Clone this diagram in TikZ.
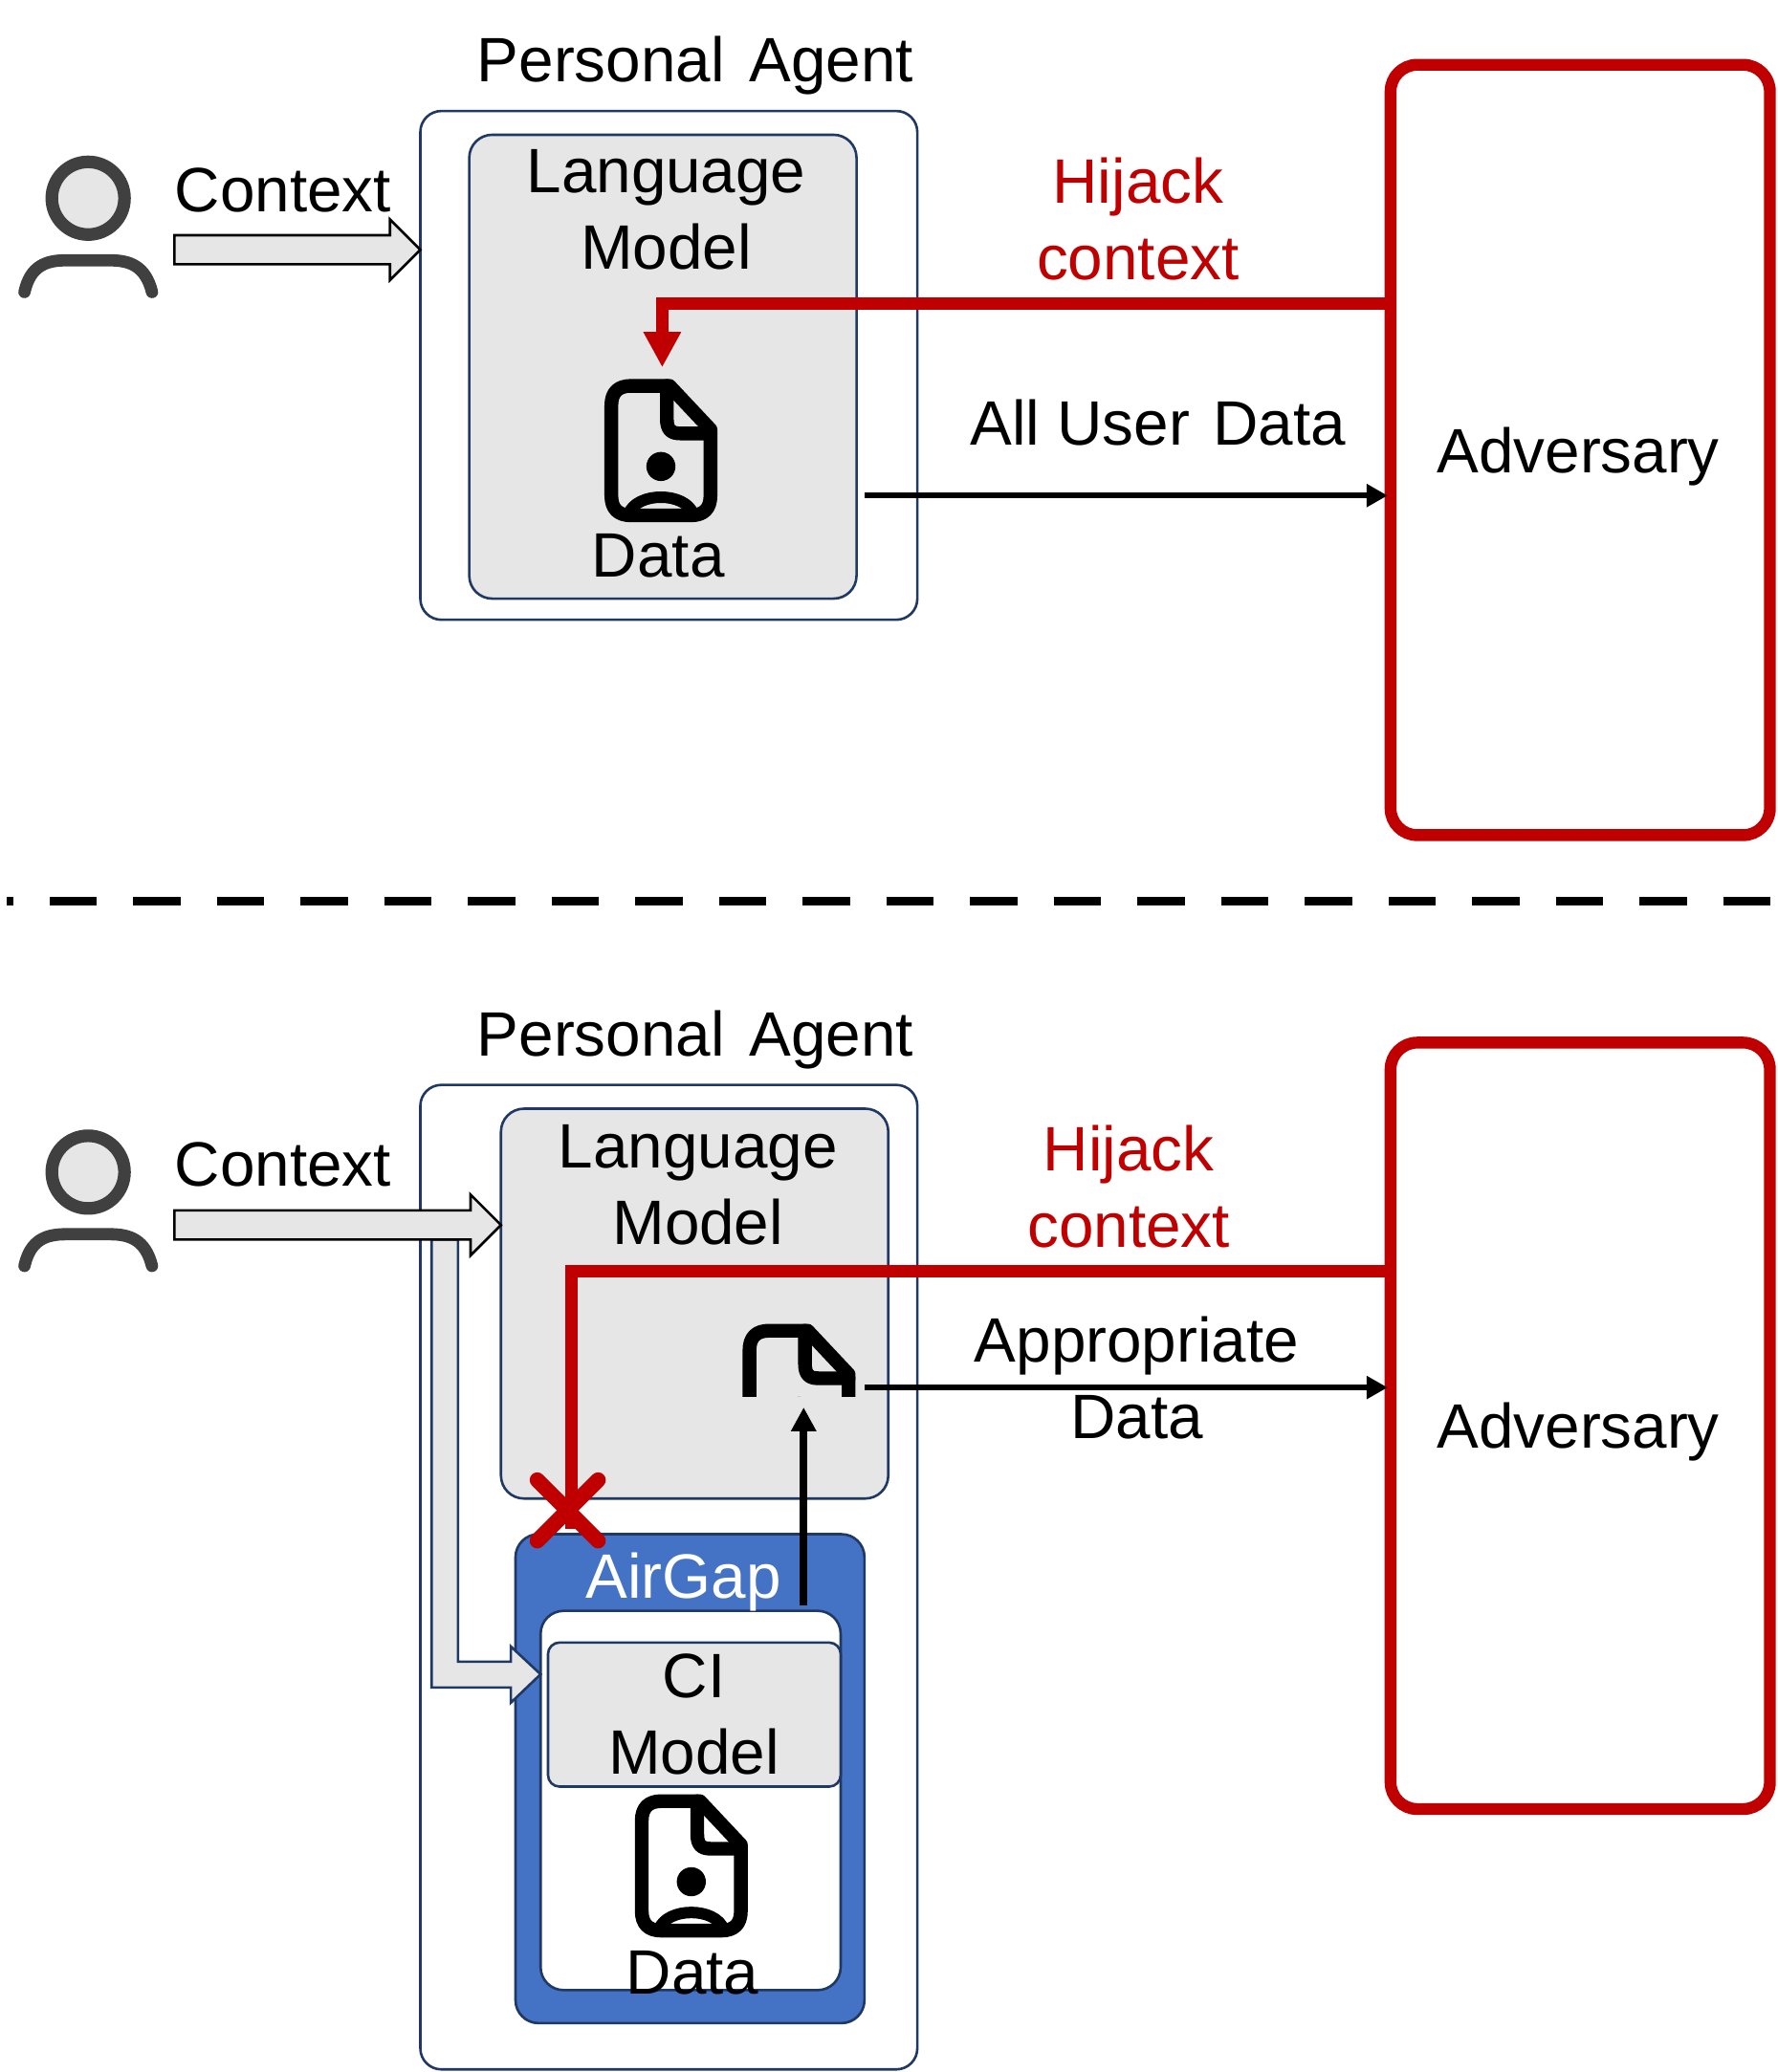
\documentclass[tikz,border=0pt]{standalone}
\usepackage{fontspec}
\setmainfont{Liberation Sans}
\usetikzlibrary{arrows.meta,calc}
\definecolor{navy}{HTML}{1F3864}
\definecolor{redc}{HTML}{C00000}
\definecolor{panel}{HTML}{E6E6E6}
\definecolor{blueg}{HTML}{4472C4}
\tikzset{
  sz/.style 2 args={minimum width=#1*0.691pt,minimum height=#2*0.691pt,inner sep=0pt,outer sep=0pt},
  agentbox/.style={draw=navy,line width=1.3pt,rounded corners=11pt,fill=white},
  modelbox/.style={draw=navy,line width=1.3pt,rounded corners=12pt,fill=panel},
  gapbox/.style={draw=navy,line width=1.3pt,rounded corners=12pt,fill=blueg},
  innerbox/.style={draw=navy,line width=1.3pt,rounded corners=12pt,fill=white},
  cibox/.style={draw=navy,line width=1.3pt,rounded corners=6pt,fill=panel},
  advbox/.style={draw=redc,line width=6.2pt,rounded corners=14pt},
  lbl/.style={inner sep=0pt,outer sep=0pt,align=center},
  redlbl/.style={lbl,text=redc},
  redline/.style={draw=redc,line width=6.6pt},
  redtip/.style={redline,-{Triangle[length=18.6pt,width=18.5pt]}},
  blackline/.style={draw=black,line width=3.1pt,shorten >=1.5pt,-{Triangle[length=11pt,width=11.5pt]}},
  blackup/.style={draw=black,line width=4.2pt,-{Triangle[length=12.5pt,width=12.5pt]}},
  blockblack/.style={draw=black,line width=1.3pt,fill=panel,line join=miter},
  blocknavy/.style={draw=navy,line width=1.3pt,fill=panel,line join=miter},
  docicon/.pic={
    \begin{scope}[line width=7.2pt,line join=round,line cap=round]
      \draw (5,20) .. controls (5,10) and (10,5) .. (20,5) -- (49,5) -- (80,38) -- (80,88)
        .. controls (80,98) and (75,103) .. (65,103) -- (20,103)
        .. controls (10,103) and (5,98) .. (5,88) -- cycle;
      \draw (47,5) -- (47,30) .. controls (47,38) and (50,41) .. (57,41) -- (80,41);
      \fill (42.5,66) circle [radius=11];
      \draw[line width=6pt] (18,102) .. controls (24,85) and (61,85) .. (67,102);
    \end{scope}
  },
  personicon/.pic={
    \draw[draw=black!75,fill=panel,line width=6.6pt] (66.7,150) circle [radius=27.5];
    \draw[draw=black!75,line width=6.4pt,line cap=round]
      (18.5,221) .. controls (23,201) and (35,197) .. (50,197) -- (83,197)
      .. controls (98,197) and (110,201) .. (115,221);
  }
}
\begin{document}
\begin{tikzpicture}[x=0.691pt,y=-0.691pt,
    every node/.append style={font=\fontsize{32.8}{40}\selectfont}]
\useasboundingbox (0,0) rectangle (1345.1,1568);

% ---------- upper panel
\node[agentbox,sz={376}{385}] (agent1) at (506,276.5) {};
\node[modelbox,sz={293}{351}] (lm1) at (501.5,277.5) {};
\node[lbl,anchor=base] (title1) at (526,62) {Personal\hspace{13pt}Agent};
\node[lbl] (lmtext1) at (504,159) {Language\\Model};
\pic at (457.5,287) {docicon};
\coordinate (doctop1) at (501,278);
\node[lbl,anchor=base] (data1) at (498,437) {Data};
\pic at (0,0) {personicon};
\node[lbl,anchor=base] (ctx1) at (214,160.5) {Context};
\draw[blockblack] ($(agent1.west |- 0,189)+(-186,-11)$) -- ++(163,0) -- ++(0,-12)
   -- (agent1.west |- 0,189) -- ++(-23,23) -- ++(0,-12) -- ++(-163,0) -- cycle;
\node[advbox,sz={287}{583}] (adv1) at (1195.5,340.5) {};
\node[lbl,anchor=base] (advtext1) at (1194,358) {Adversary};
\node[redlbl] (hij1) at (861,166) {Hijack\\context};
\node[lbl,anchor=base] (all) at (876,337) {All User\hspace{3pt} Data};
\draw[redtip] (adv1.west |- 0,230) -| (doctop1);
\coordinate (out1) at (654,375);
\draw[blackline] (out1) -- (out1 -| adv1.west);

% ---------- separator
\coordinate (sepl) at (5,682);
\coordinate (sepr) at (1340,682);
\draw[line width=4.8pt,dash pattern=on 24.9pt off 18.85pt,dash phase=21.4pt] (sepl) -- (sepr);

% ---------- lower panel
\node[agentbox,sz={376}{745}] (agent2) at (506,1193.5) {};
\node[modelbox,sz={293}{295}] (lm2) at (525.5,986.5) {};
\node[lbl,anchor=base] (title2) at (526,799) {Personal\hspace{13pt}Agent};
\node[lbl] (lmtext2) at (528,897) {Language\\Model};
\begin{scope}
  \clip (555,995) rectangle (655,1057);
  \pic at (562,1002) {docicon};
\end{scope}
\begin{scope}[yshift={-737*0.691pt}]
  \pic at (0,0) {personicon};
\end{scope}
\node[lbl,anchor=base] (ctx2) at (214,897.5) {Context};

\node[gapbox,sz={264}{370}] (gap) at (522,1346) {};
\node[innerbox,sz={227}{287}] (inner) at (522.5,1362.5) {};
\node[cibox,sz={221.4}{109}] (ci) at (525.3,1297.5) {};
\node[lbl] (citext) at (525,1297) {CI\\Model};
\pic at (480.5,1358) {docicon};
\node[lbl,anchor=base] (gaptext) at (517,1209.5) {\textcolor{white}{AirGap}};
\node[lbl,anchor=base] (data2) at (524,1509) {Data};

\draw[blocknavy] (326.5,938) -- (346.5,938) -- (346.5,1257.5) -- (386.5,1257.5) -- (386.5,1246)
   -- (inner.west |- 0,1267) -- (386.5,1288.5) -- (386.5,1277) -- (326.5,1277) -- cycle;
\draw[blockblack] ($(lm2.west |- 0,927)+(-247,-11)$) -- ++(224,0) -- ++(0,-12)
   -- (lm2.west |- 0,927) -- ++(-23,23) -- ++(0,-12) -- ++(-224,0) -- cycle;

\node[advbox,sz={287}{580}] (adv2) at (1195.5,1079) {};
\node[lbl,anchor=base] (advtext2) at (1194,1095.5) {Adversary};
\node[redlbl] (hij2) at (854,898) {Hijack\\context};
\node[lbl] (approp) at (860,1043) {Appropriate\\Data};

\coordinate (block) at (432.5,1157);
\draw[redline] (adv2.west |- 0,962) -| (block);
\coordinate (xc) at (429.5,1143);
\draw[draw=redc,line width=8pt,line cap=round] ($(xc)+(-23,-23)$) -- ($(xc)+(23,23)$);
\draw[draw=redc,line width=8pt,line cap=round] ($(xc)+(23,-23)$) -- ($(xc)+(-23,23)$);

\coordinate (upstart) at (608,1215);
\draw[blackup] (upstart) -- (608,1065);
\coordinate (out2) at (654,1050);
\draw[blackline] (out2) -- (out2 -| adv2.west);
\end{tikzpicture}
\end{document}
